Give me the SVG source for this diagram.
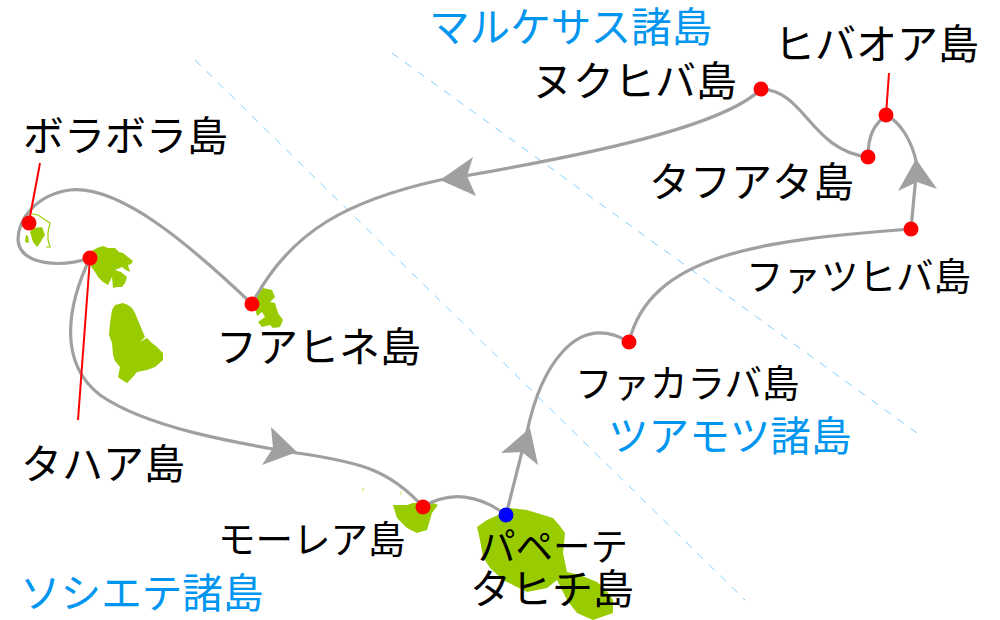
<svg xmlns="http://www.w3.org/2000/svg" width="1000" height="620" viewBox="0 0 1000 620">
<style>
text{font-family:"Noto Sans CJK JP","Noto Sans",sans-serif;font-size:41px;fill:#000}
text.r{fill:#0096f0;font-size:40.6px}
text.s{font-size:37.5px}
.i{fill:#99cc00;stroke:none}
.d{fill:none;stroke:#80d0ff;stroke-width:1;stroke-dasharray:8 8}
.c{fill:none;stroke:#a0a0a0;stroke-width:3.2}
.a{fill:#a0a0a0}
.l{stroke:#ff0000;stroke-width:2;fill:none}
.p{fill:#ff0000}
</style>
<g id="regions">
<path class="d" d="M195 60L745 600"/>
<path class="d" d="M392 53L917 433"/>
</g>
<g id="islands">
<path class="i" d="M90 252L97 248L103 246L108 248L115 248L119 252L123 253L128 257L133 261L131 264L128 265L130 272L126 270L122 267L115 270L121 272L127 277L125 283L122 287L117 287L113 288L112 277L108 285L103 282L98 277L95 272L90 265Z"/>
<path class="i" d="M112 310L115 305L123 303L128 305L132 308L135 313L137 318L140 325L142 330L145 337L140 342L147 338L152 343L157 347L163 353L163 360L155 367L147 370L137 372L132 378L127 383L122 380L118 377L120 367L115 361L113 355L112 343L109 335L110 323Z"/>
<path class="i" d="M33 228L42 227L45 235L43 238L40 243L37 247L33 242L30 232Z"/>
<path class="i" d="M26 235L28 236L29 243L25 242Z"/>
<path fill="none" stroke="#99cc00" stroke-width="1.2" d="M32 214L38 215L50 223L48 232L48 240L50 247L46 247"/>
<path class="i" d="M255 295L263 288L272 290L275 297L270 302L275 303L278 313L283 320L280 327L273 328L270 325L262 327L258 322L265 317L262 312L257 316L254 304Z"/>
<path class="i" d="M393 505L407 505L413 503L433 503L438 505L432 513L427 530L417 533L407 528L397 518Z"/>
<path fill="#dfeea0" d="M362 488h2v3h-2ZM400 491h1.5v4h-1.5Z"/>
<path class="i" d="M498 515L510 508L527 510L540 514L553 518L560 526L565 533L563 553L567 572L580 575L597 582L606 590L613 600L613 613L593 620L577 613L567 600L557 580L547 588L527 592L503 580L490 568L483 557L480 540L477 527L487 520Z"/>
</g>
<g id="connectors">
<path class="c" d="M506 515L527 432C540 370 575 310 629 342"/>
<path class="c" d="M629 342C650 255 760 240 911 229"/>
<path class="c" d="M911 229L917 165C912 140 900 122 886 115"/>
<path class="c" d="M886 115C874 125 868 135 868 157"/>
<path class="c" d="M868 157C810 150 805 90 761 89"/>
<path class="c" d="M761 89C720 130 560 160 440 180C350 200 290 230 252 304"/>
<path class="c" d="M252 304C190 245 120 185 70 190C35 195 18 220 18 240C20 265 60 268 90 258"/>
<path class="c" d="M90 258C70 300 55 360 100 395C150 430 250 445 297 453C360 462 390 470 423 507"/>
<path class="c" d="M423 507C450 490 480 495 506 515"/>
<polygon class="a" points="530,428 538,465 522,452 501,453"/>
<polygon class="a" points="916,159 937,189 917,182 898,191"/>
<polygon class="a" points="440,180 473,157 467,176 476,196"/>
<polygon class="a" points="297,452 262,465 273,448 271,427"/>
<path class="l" d="M40 163L29 222"/>
<path class="l" d="M90 258L78 420"/>
<path class="l" d="M889 73L886 115"/>
</g>
<g id="n-bora"><circle class="p" cx="29" cy="223" r="7.5"/><text x="23" y="151">ボラボラ島</text></g>
<g id="n-tahaa"><circle class="p" cx="90" cy="258" r="7.5"/><text x="21" y="479">タハア島</text></g>
<g id="n-huahine"><circle class="p" cx="252" cy="304" r="7.5"/><text x="216" y="362">フアヒネ島</text></g>
<g id="n-moorea"><circle class="p" cx="423" cy="507" r="7.5"/><text class="s" x="218" y="553">モーレア島</text></g>
<g id="n-papeete"><circle cx="506" cy="515" r="7.5" fill="#0000ff"/><text class="s" x="478" y="560">パペーテ</text></g>
<g id="n-tahiti"><text x="470" y="604">タヒチ島</text></g>
<g id="n-fakarava"><circle class="p" cx="629" cy="342" r="7.5"/><text class="s" x="575" y="397">ファカラバ島</text></g>
<g id="n-fatuhiva"><circle class="p" cx="911" cy="229" r="7.5"/><text class="s" x="746" y="290">ファツヒバ島</text></g>
<g id="n-tahuata"><circle class="p" cx="868" cy="157" r="7.5"/><text x="649" y="197">タフアタ島</text></g>
<g id="n-hivaoa"><circle class="p" cx="886" cy="115" r="7.5"/><text x="774" y="59">ヒバオア島</text></g>
<g id="n-nukuhiva"><circle class="p" cx="761" cy="89" r="7.5"/><text x="532" y="96">ヌクヒバ島</text></g>
<g id="regions-labels">
<text class="r" x="429" y="42">マルケサス諸島</text>
<text class="r" x="608" y="451">ツアモツ諸島</text>
<text class="r" x="20" y="608">ソシエテ諸島</text>
</g>
</svg>
